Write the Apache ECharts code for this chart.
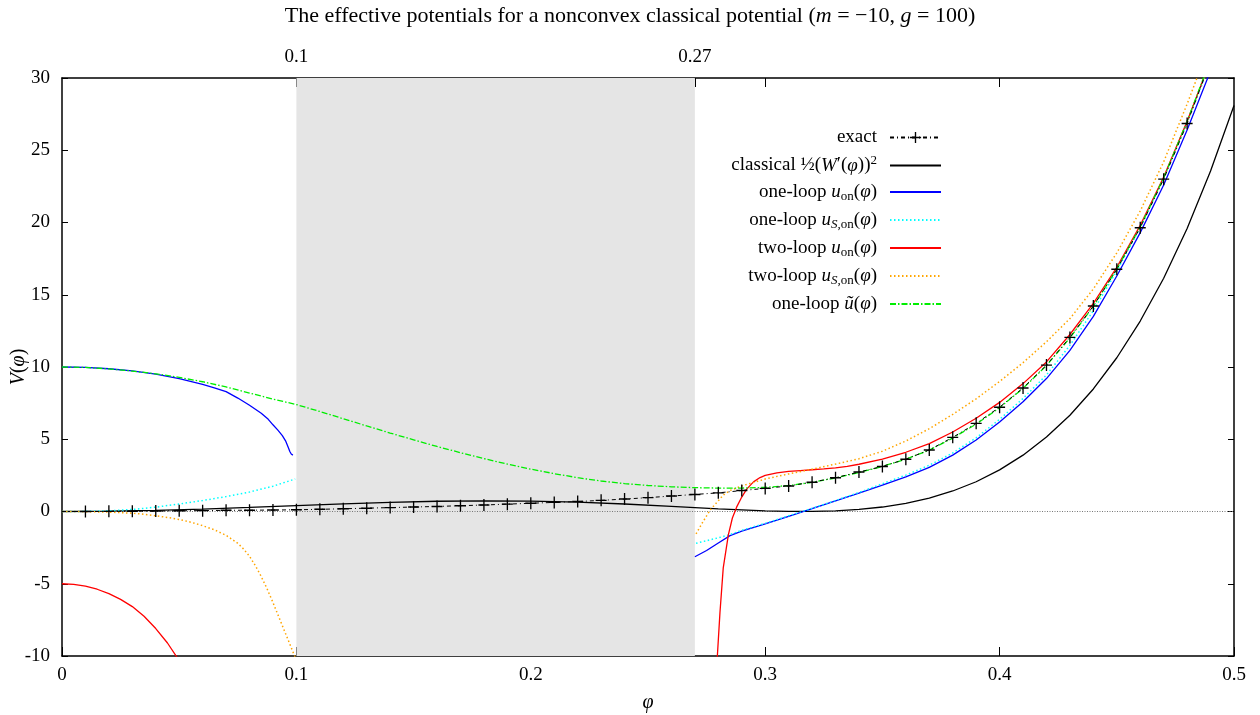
<!DOCTYPE html>
<html><head><meta charset="utf-8">
<script src="https://cdn.jsdelivr.net/npm/echarts@6/dist/echarts.min.js"></script>
<style>html,body{margin:0;padding:0;background:#fff}#c{width:1260px;height:715px}</style>
</head><body><div id="c"></div>
<script>
// ---- axes / ticks ----
const xRange = [0, 0.5];
const yRange = [-10, 30];
const xStep = 0.1;
const yStep = 5;
const topTickValues = [0.1, 0.2, 0.27, 0.3, 0.4];
const topLabelValues = [0.1, 0.27];
const bandX = [0.1, 0.27];

// ---- series data [phi, V] ----
const exact = [[0,0],[0.01,0.0],[0.02,0.01],[0.03,0.02],[0.04,0.03],[0.05,0.05],[0.06,0.06],[0.07,0.08],[0.08,0.09],[0.09,0.1],[0.10,0.12],[0.11,0.15],[0.12,0.19],[0.13,0.23],[0.14,0.27],[0.15,0.31],[0.16,0.35],[0.17,0.4],[0.18,0.45],[0.19,0.51],[0.20,0.57],[0.21,0.63],[0.22,0.69],[0.23,0.77],[0.24,0.86],[0.25,0.96],[0.26,1.07],[0.27,1.18],[0.28,1.29],[0.29,1.45],[0.30,1.6],[0.31,1.77],[0.32,2.03],[0.33,2.34],[0.34,2.73],[0.35,3.12],[0.36,3.62],[0.37,4.26],[0.38,5.13],[0.39,6.1],[0.40,7.22],[0.41,8.55],[0.42,10.13],[0.43,12.05],[0.44,14.22],[0.45,16.76],[0.46,19.64],[0.47,23.0],[0.48,26.85],[0.49,31.2]];
const classical = [[0,0],[0.02,0.02],[0.04,0.077],[0.06,0.167],[0.08,0.28],[0.10,0.405],[0.12,0.528],[0.14,0.633],[0.16,0.709],[0.18,0.74],[0.20,0.72],[0.22,0.644],[0.24,0.518],[0.26,0.355],[0.28,0.183],[0.30,0.045],[0.31,0.007],[0.32,0.003],[0.33,0.043],[0.34,0.141],[0.35,0.31],[0.36,0.568],[0.37,0.93],[0.38,1.42],[0.39,2.06],[0.40,2.88],[0.41,3.9],[0.42,5.15],[0.43,6.66],[0.44,8.48],[0.45,10.64],[0.46,13.18],[0.47,16.14],[0.48,19.59],[0.49,23.56],[0.50,28.1]];
const oneLoopLeft = [[0,10],[0.01,9.97],[0.02,9.88],[0.03,9.73],[0.04,9.5],[0.05,9.2],[0.06,8.8],[0.065,8.56],[0.07,8.3],[0.075,7.85],[0.08,7.35],[0.085,6.8],[0.088,6.38],[0.09,6.0],[0.092,5.65],[0.094,5.25],[0.0955,4.85],[0.0965,4.45],[0.0972,4.15],[0.0978,3.98],[0.0985,3.9]];
const oneLoopRight = [[0.27,-3.13],[0.275,-2.7],[0.28,-2.18],[0.285,-1.67],[0.29,-1.36],[0.30,-0.85],[0.31,-0.33],[0.32,0.2],[0.33,0.73],[0.34,1.27],[0.35,1.82],[0.36,2.4],[0.37,3.05],[0.38,3.9],[0.39,4.95],[0.40,6.2],[0.41,7.6],[0.42,9.2],[0.43,11.15],[0.44,13.5],[0.45,16.3],[0.46,19.3],[0.47,22.6],[0.48,26.4],[0.49,30.5]];
const oneLoopSLeft = [[0,0],[0.01,0.01],[0.02,0.05],[0.03,0.14],[0.04,0.3],[0.05,0.52],[0.06,0.76],[0.07,1.03],[0.08,1.35],[0.09,1.75],[0.0995,2.25]];
const oneLoopSRight = [[0.2705,-2.2],[0.275,-2.02],[0.28,-1.82],[0.285,-1.6],[0.29,-1.3],[0.30,-0.82],[0.31,-0.3],[0.32,0.22],[0.33,0.76],[0.34,1.32],[0.35,1.92],[0.36,2.52],[0.37,3.2],[0.38,4.05],[0.39,5.1],[0.40,6.38],[0.41,7.82],[0.42,9.45],[0.43,11.5],[0.44,13.9],[0.45,16.65],[0.46,19.65],[0.47,23.05],[0.48,26.9],[0.49,31.1]];
const twoLoopLeft = [[0,-5],[0.005,-5.04],[0.01,-5.17],[0.015,-5.38],[0.02,-5.68],[0.025,-6.08],[0.03,-6.58],[0.035,-7.25],[0.04,-8.1],[0.045,-9.1],[0.0495,-10.2]];
const twoLoopRight = [[0.2794,-10.5],[0.2807,-7.0],[0.2821,-3.9],[0.2843,-1.6],[0.286,-0.45],[0.2878,0.3],[0.29,1.0],[0.2921,1.55],[0.295,2.05],[0.2978,2.35],[0.30,2.5],[0.305,2.67],[0.31,2.77],[0.315,2.83],[0.32,2.89],[0.325,2.95],[0.33,3.02],[0.335,3.12],[0.34,3.27],[0.35,3.62],[0.36,4.1],[0.37,4.7],[0.38,5.5],[0.39,6.45],[0.40,7.55],[0.41,8.85],[0.42,10.35],[0.43,12.25],[0.44,14.4],[0.45,16.9],[0.46,19.8],[0.47,23.15],[0.48,27.0],[0.49,31.2]];
const twoLoopSLeft = [[0,0],[0.01,-0.01],[0.02,-0.04],[0.03,-0.12],[0.035,-0.19],[0.04,-0.3],[0.045,-0.41],[0.05,-0.55],[0.055,-0.74],[0.06,-0.98],[0.065,-1.27],[0.07,-1.65],[0.075,-2.2],[0.0775,-2.6],[0.08,-3.1],[0.0825,-3.75],[0.085,-4.5],[0.0875,-5.35],[0.09,-6.3],[0.0925,-7.3],[0.095,-8.3],[0.0975,-9.3],[0.0995,-10.1]];
const twoLoopSRight = [[0.2705,-1.55],[0.2735,-0.7],[0.2765,0.1],[0.28,0.75],[0.2821,1.14],[0.285,1.45],[0.29,1.77],[0.30,2.25],[0.31,2.6],[0.32,2.93],[0.33,3.28],[0.34,3.65],[0.35,4.17],[0.36,4.88],[0.37,5.73],[0.38,6.72],[0.39,7.8],[0.40,9.0],[0.41,10.3],[0.42,11.75],[0.43,13.35],[0.44,15.4],[0.45,17.9],[0.46,20.8],[0.47,24.2],[0.48,28.2],[0.49,32.5]];
const oneLoopTilde = [[0,10],[0.01,9.97],[0.02,9.87],[0.03,9.72],[0.04,9.53],[0.05,9.28],[0.06,8.98],[0.07,8.62],[0.08,8.2],[0.09,7.78],[0.10,7.4],[0.11,6.92],[0.12,6.42],[0.13,5.92],[0.14,5.43],[0.15,4.96],[0.16,4.5],[0.17,4.07],[0.18,3.66],[0.19,3.28],[0.20,2.93],[0.21,2.62],[0.22,2.34],[0.23,2.11],[0.24,1.93],[0.25,1.8],[0.26,1.71],[0.27,1.65],[0.28,1.62],[0.29,1.62],[0.30,1.67],[0.31,1.8],[0.32,2.02],[0.33,2.32],[0.34,2.7],[0.35,3.12],[0.36,3.62],[0.37,4.25],[0.38,5.08],[0.39,6.05],[0.40,7.18],[0.41,8.52],[0.42,10.1],[0.43,12.02],[0.44,14.2],[0.45,16.78],[0.46,19.7],[0.47,23.1],[0.48,27.0],[0.49,31.3]];

const names = ['exact','classical','oneloop_on','oneloop_Son','twoloop_on','twoloop_Son','oneloop_tilde'];
const legendLabels = {
  exact: '{t|exact}',
  classical: '{t|classical }{t|½(}{i|W}{t|′(}{i|φ}{t|))}{sup|2}',
  oneloop_on: '{t|one-loop }{i|u}{sub|on}{t|(}{i|φ}{t|)}',
  oneloop_Son: '{t|one-loop }{i|u}{subi|S}{sub|,on}{t|(}{i|φ}{t|)}',
  twoloop_on: '{t|two-loop }{i|u}{sub|on}{t|(}{i|φ}{t|)}',
  twoloop_Son: '{t|two-loop }{i|u}{subi|S}{sub|,on}{t|(}{i|φ}{t|)}',
  oneloop_tilde: '{t|one-loop }{i|ũ}{t|(}{i|φ}{t|)}'
};

const FONT = '"Liberation Serif","DejaVu Serif",serif';
const rich = (fs) => {
  const base = {fontFamily: FONT, color: '#000', fontWeight: 'normal'};
  return {
    t: Object.assign({}, base, {fontSize: fs, lineHeight: 22, verticalAlign: 'middle'}),
    i: Object.assign({}, base, {fontSize: fs, fontStyle: 'italic', lineHeight: 22, verticalAlign: 'middle'}),
    sub: Object.assign({}, base, {fontSize: Math.round(fs * 0.7), lineHeight: 14, verticalAlign: 'bottom'}),
    subi: Object.assign({}, base, {fontSize: Math.round(fs * 0.7), fontStyle: 'italic', lineHeight: 14, verticalAlign: 'bottom'}),
    sup: Object.assign({}, base, {fontSize: Math.round(fs * 0.7), lineHeight: 14, verticalAlign: 'top'}),
    g: {width: 8}
  };
};

const plus = 'path://M4.4,0h1.2v10h-1.2z M0,4.4h10v1.2h-10z';
function lineSeries(name, data, color, type, width, extra) {
  return Object.assign({
    name, type: 'line', data, xAxisIndex: 0, yAxisIndex: 0,
    showSymbol: false, symbol: 'circle', smooth: false,
    lineStyle: {color, type, width}, itemStyle: {color, opacity: 0}, z: 3, animation: false, silent: true
  }, extra || {});
}

const chart = echarts.init(document.getElementById('c'), null, {renderer: 'canvas'});
chart.setOption({
  animation: false,
  backgroundColor: '#fff',
  title: {
    text: '{t|The effective potentials for a nonconvex classical potential (}{i|m}{t| = −10, }{i|g}{t| = 100)}',
    left: 'center', top: 0,
    textStyle: {fontWeight: 'normal', rich: rich(22)}
  },
  grid: {left: 62, right: 26, top: 78, bottom: 59, outerBoundsMode: 'none', containLabel: false},
  legend: {
    orient: 'vertical', align: 'right', right: 318, top: 128, padding: 0,
    itemWidth: 51, itemHeight: 14, itemGap: 7.5,
    data: names,
    formatter: (n) => legendLabels[n] + '{g| }',
    textStyle: {rich: rich(19)},
    selectedMode: false
  },
  xAxis: [{
    type: 'value', position: 'bottom', min: xRange[0], max: xRange[1], interval: xStep,
    name: '{i|φ}', nameLocation: 'middle', nameGap: 36, nameTextStyle: {rich: rich(20)},
    axisLine: {onZero: false, lineStyle: {color: '#000', width: 1.5}},
    axisTick: {inside: true, length: 9, lineStyle: {color: '#000', width: 1}},
    axisLabel: {fontFamily: FONT, fontSize: 19, color: '#000', margin: 10},
    splitLine: {show: false}
  }, {
    type: 'value', position: 'top', min: xRange[0], max: xRange[1],
    axisLine: {onZero: false, lineStyle: {color: '#000', width: 1.5}},
    axisTick: {inside: true, length: 9, customValues: topTickValues, lineStyle: {color: '#000', width: 1}},
    axisLabel: {fontFamily: FONT, fontSize: 19, color: '#000', margin: 11, customValues: topLabelValues},
    splitLine: {show: false}
  }],
  yAxis: [{
    type: 'value', position: 'left', min: yRange[0], max: yRange[1], interval: yStep,
    name: '{i|V}{t|(}{i|φ}{t|)}', nameLocation: 'middle', nameGap: 32, nameRotate: 90,
    nameMoveOverlap: false,
    nameTextStyle: {rich: rich(20)},
    axisLine: {onZero: false, lineStyle: {color: '#000', width: 1.5}},
    axisTick: {inside: true, length: 6, lineStyle: {color: '#000', width: 1}},
    axisLabel: {fontFamily: FONT, fontSize: 19, color: '#000', margin: 12},
    splitLine: {show: false}
  }, {
    type: 'value', position: 'right', min: yRange[0], max: yRange[1], interval: yStep,
    axisLine: {onZero: false, lineStyle: {color: '#000', width: 1.5}},
    axisTick: {inside: true, length: 6, lineStyle: {color: '#000', width: 1}},
    axisLabel: {show: false},
    splitLine: {show: false}
  }],
  series: [
    lineSeries('exact', exact.map((p, i) => i === 0 ? {value: p, symbol: 'none'} : p), '#000', [4, 3, 1, 3], 1, {
      showSymbol: true, symbol: plus, symbolSize: [11, 12], z: 4,
      itemStyle: {color: '#000', opacity: 1},
      markArea: {silent: true, z: 1, itemStyle: {color: '#e5e5e5'}, data: [[{xAxis: bandX[0]}, {xAxis: bandX[1]}]]},
      markLine: {silent: true, z: 2, symbol: ['none', 'none'], label: {show: false},
        lineStyle: {color: '#777', type: [1, 1.5], width: 1}, data: [{yAxis: 0}]}
    }),
    lineSeries('classical', classical, '#000', 'solid', 1.3),
    lineSeries('oneloop_on', oneLoopLeft, '#0000ff', 'solid', 1.3),
    lineSeries('oneloop_on', oneLoopRight, '#0000ff', 'solid', 1.3),
    lineSeries('oneloop_Son', oneLoopSLeft, '#00ffff', [1.5, 2.5], 1.5),
    lineSeries('oneloop_Son', oneLoopSRight, '#00ffff', [1.5, 2.5], 1.5),
    lineSeries('twoloop_on', twoLoopLeft, '#ff0000', 'solid', 1.3),
    lineSeries('twoloop_on', twoLoopRight, '#ff0000', 'solid', 1.3),
    lineSeries('twoloop_Son', twoLoopSLeft, '#ffa500', [1.5, 2.5], 1.5),
    lineSeries('twoloop_Son', twoLoopSRight, '#ffa500', [1.5, 2.5], 1.5),
    lineSeries('oneloop_tilde', oneLoopTilde, '#00ee00', [6, 2, 1.5, 2], 1.3)
  ]
});
</script>
</body></html>
